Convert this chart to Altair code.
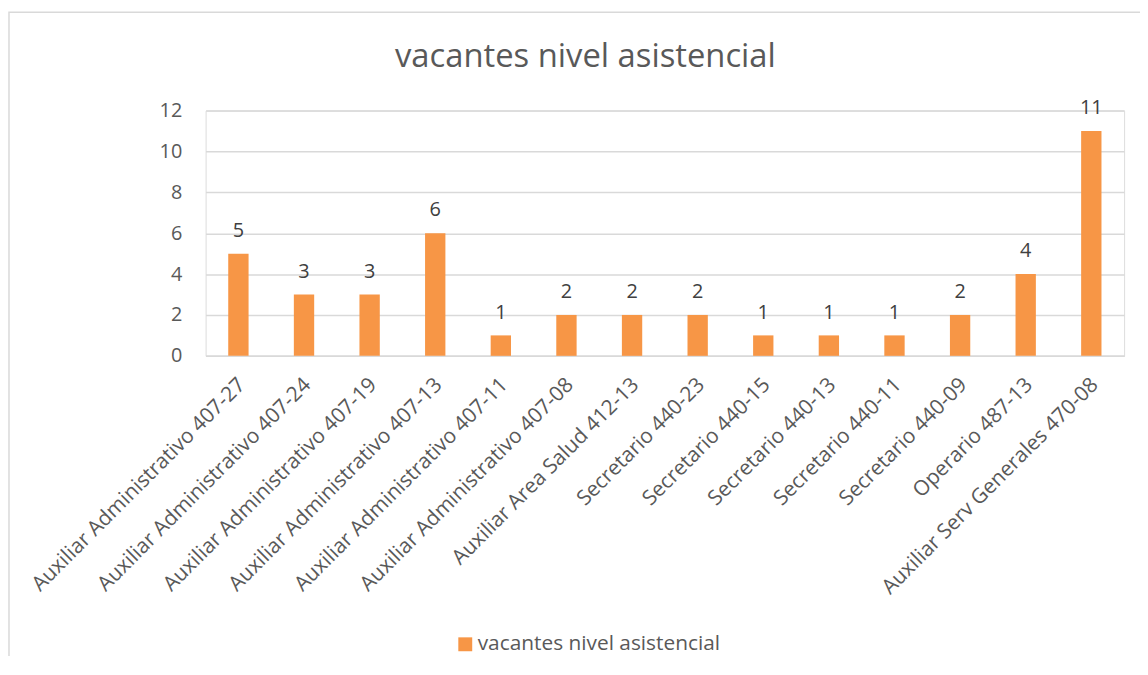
import altair as alt
import pandas as pd

categories = [
    "Auxiliar Administrativo 407-27",
    "Auxiliar Administrativo 407-24",
    "Auxiliar Administrativo 407-19",
    "Auxiliar Administrativo 407-13",
    "Auxiliar Administrativo 407-11",
    "Auxiliar Administrativo 407-08",
    "Auxiliar Area Salud 412-13",
    "Secretario 440-23",
    "Secretario 440-15",
    "Secretario 440-13",
    "Secretario 440-11",
    "Secretario 440-09",
    "Operario 487-13",
    "Auxiliar Serv Generales 470-08",
]
values = [5, 3, 3, 6, 1, 2, 2, 2, 1, 1, 1, 2, 4, 11]
series_name = "vacantes nivel asistencial"
y_ticks = [0, 2, 4, 6, 8, 10, 12]

df = pd.DataFrame({"cargo": categories, "vacantes": values, "serie": series_name})

FONT = "Open Sans"
ORANGE = "#F79646"
TEXT = "#595959"

x = alt.X("cargo:N", sort=categories, title=None,
          scale=alt.Scale(paddingInner=0.69, paddingOuter=0.345),
          axis=alt.Axis(labelAngle=-45, labelAlign="right", labelBaseline="top",
                        labelFontSize=21, labelColor=TEXT, labelFont=FONT,
                        labelPadding=18, labelOffset=-4, ticks=False,
                        domainColor="#d9d9d9", domainWidth=1.5,
                        labelLimit=500, labelOverlap=False))
y = alt.Y("vacantes:Q", title=None,
          scale=alt.Scale(domain=[0, 12], nice=False),
          axis=alt.Axis(values=y_ticks, domain=False, ticks=False,
                        labelFontSize=20, labelColor=TEXT, labelFont=FONT,
                        labelPadding=24, gridColor="#d9d9d9", gridWidth=1.5))

frame = alt.Chart(pd.DataFrame({"k": [0]})).mark_rect(
    fill="white", fillOpacity=0, stroke="#d9d9d9", strokeWidth=1.5).encode(
    x=alt.value(-198), x2=alt.value(1400), y=alt.value(-99), y2=alt.value(900))

bars = alt.Chart(df).mark_bar(color=ORANGE).encode(
    x=x, y=y,
    color=alt.Color("serie:N", scale=alt.Scale(range=[ORANGE]),
                    legend=alt.Legend(title=None, orient="none", legendX=251, legendY=527,
                                      symbolType="square", symbolSize=196,
                                      symbolStrokeWidth=0, labelFontSize=21,
                                      labelColor=TEXT, labelFont=FONT, labelOffset=2,
                                      labelLimit=500, symbolOpacity=1)),
)
labels = alt.Chart(df).mark_text(baseline="alphabetic", dy=-17, fontSize=20,
                                 color="#404040", font=FONT).encode(
    x=alt.X("cargo:N", sort=categories), y="vacantes:Q", text="vacantes:Q")

chart = alt.layer(frame, bars, labels).properties(
    width=925, height=247,
    title=alt.TitleParams(series_name, fontSize=33, font=FONT, fontWeight="normal",
                          color=TEXT, anchor="middle", baseline="alphabetic",
                          frame="group", dx=-80, offset=-89),
    autosize=alt.AutoSizeParams(type="none"),
    padding={"left": 199, "top": 101, "right": 16, "bottom": 300},
).configure_view(stroke=None).configure(background="white")

chart.save("out.html", embed_options={"renderer": "svg", "actions": False})
